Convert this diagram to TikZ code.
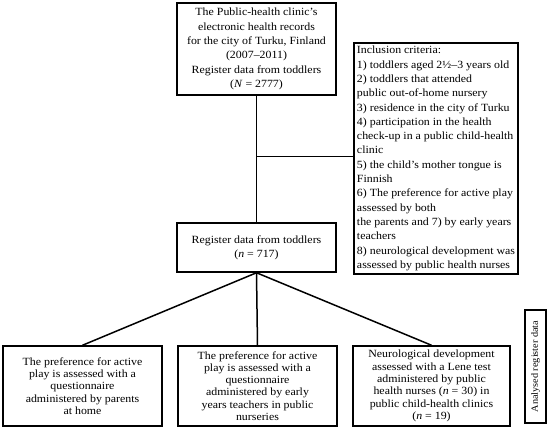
\documentclass[tikz,border=0pt]{standalone}
\usepackage{fontspec}
\setmainfont{Liberation Serif}[FakeStretch=1.08]
\usepackage{tikz}
\usetikzlibrary{positioning,calc}

\begin{document}
\begin{tikzpicture}[x=1pt,y=-1pt,
		every node/.style={font=\fontsize{11}{14.3}\selectfont},
		box/.style={draw, line width=1.5pt, rectangle, inner sep=2pt, align=center},
		studybox/.style={box, minimum width=159pt, minimum height=80pt, font=\fontsize{11}{12.3}\selectfont},
		link/.style={line width=1.5pt}]
		\useasboundingbox (0,0) rectangle (550,428);
		\node[box, minimum width=159pt, minimum height=92pt] (records) at (256.5,49) {The Public-health clinic’s\\electronic health records\\for the city of Turku, Finland\\(2007–2011)\\Register data from toddlers\\(\textit{N} = 2777)};
		\node[box, minimum width=159pt, minimum height=49pt] (toddlers) at (256.5,247.5) {Register data from toddlers\\(\textit{n} = 717)};
		\node[box, minimum width=164pt, minimum height=227pt, align=left, inner sep=3pt] (criteria) at (436,158.5) {Inclusion criteria:\\1) toddlers aged 2½–3 years old\\2) toddlers that attended\\public out-of-home nursery\\3) residence in the city of Turku\\4) participation in the health\\check-up in a public child-health\\clinic\\5) the child’s mother tongue is\\Finnish\\6) The preference for active play\\assessed by both\\the parents and 7) by early years\\teachers\\8) neurological development was\\assessed by public health nurses};
		\node[studybox] (parents) at (82.5,386) {The preference for active\\play is assessed with a\\questionnaire\\administered by parents\\at home};
		\node[studybox] (teachers) at (257.5,386) {The preference for active\\play is assessed with a\\questionnaire\\administered by early\\years teachers in public\\nurseries};
		\node[studybox, minimum width=157pt] (nurses) at (431.5,386) {Neurological development\\assessed with a Lene test\\administered by public\\health nurses (\textit{n} = 30) in\\public child-health clinics\\(\textit{n} = 19)};
		\node[box, rotate=90, minimum width=113pt, minimum height=21pt, inner sep=1pt, font=\fontsize{9.5}{10}\selectfont] (analysed) at (535.5,366.5) {Analysed register data};
		\draw[link] (records) -- coordinate[pos=0.48] (junc) (toddlers);
		\draw[link] (junc) -- (junc -| criteria.west);
		\draw[link] (toddlers.south) -- (parents.north);
		\draw[link] (toddlers.south) -- (teachers.north);
		\draw[link] (toddlers.south) -- (nurses.north);
	\end{tikzpicture}
\end{document}
